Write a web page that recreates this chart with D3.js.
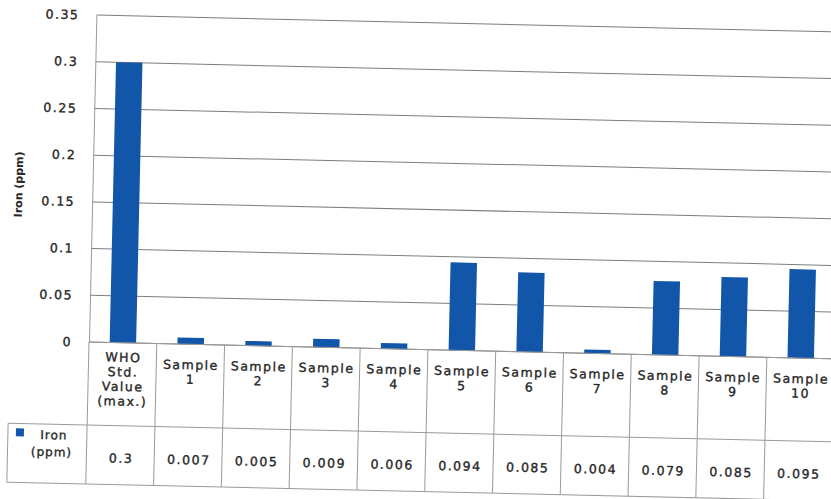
<!DOCTYPE html>
<html>
<head>
<meta charset="utf-8">
<script src="https://cdn.jsdelivr.net/npm/d3@7/dist/d3.min.js"></script>
<style>
  html, body { margin: 0; padding: 0; background: #fff; }
  svg { display: block; }
  text { font-family: "DejaVu Sans", Verdana, sans-serif; }
</style>
</head>
<body>
<script>
// Iron concentration per sample, with the WHO maximum as reference
const categories = ["WHO Std. Value (max.)", "Sample 1", "Sample 2", "Sample 3", "Sample 4",
  "Sample 5", "Sample 6", "Sample 7", "Sample 8", "Sample 9", "Sample 10"];
const categoryLines = [["WHO", "Std.", "Value", "(max.)"], ["Sample", "1"], ["Sample", "2"],
  ["Sample", "3"], ["Sample", "4"], ["Sample", "5"], ["Sample", "6"], ["Sample", "7"],
  ["Sample", "8"], ["Sample", "9"], ["Sample", "10"]];
const ironValues = [0.3, 0.007, 0.005, 0.009, 0.006, 0.094, 0.085, 0.004, 0.079, 0.085, 0.095];
const seriesName = ["Iron", "(ppm)"];
const yTicks = [0, 0.05, 0.1, 0.15, 0.2, 0.25, 0.3, 0.35];
const yTickLabels = ["0", "0.05", "0.1", "0.15", "0.2", "0.25", "0.3", "0.35"];
const yTitle = "Iron (ppm)";

const W = 831, H = 499;
const left = 89, zeroY = 342, topY = 15;
const step = 67.8;
const labelRowBottom = 425, tableBottom = 484, legendLeft = 10;
const barColor = "#1256a9";
const gridColor = "#7d7d7d";
const borderColor = "#9a9a9a";
const textColor = "#262626";
const textStroke = 0.35;

const svg = d3.select("body").append("svg").attr("width", W).attr("height", H);
svg.append("rect").attr("width", W).attr("height", H).attr("fill", "#fff");

// the printed page sits slightly tilted
const g = svg.append("g").attr("transform", `rotate(1.3, ${left}, ${zeroY})`);

const x = d3.scaleBand().domain(categories).range([left, left + step * categories.length]).padding(0);
const y = d3.scaleLinear().domain([0, 0.35]).range([zeroY, topY]);

// horizontal gridlines
g.append("g").selectAll("line").data(yTicks).join("line")
  .attr("x1", left).attr("x2", left + step * categories.length + 20)
  .attr("y1", d => y(d)).attr("y2", d => y(d))
  .attr("stroke", gridColor).attr("stroke-width", 1);

// y-axis with tick labels
const yAxis = d3.axisLeft(y).tickValues(yTicks).tickSize(0).tickPadding(17)
  .tickFormat((d, i) => yTickLabels[i]);
const ya = g.append("g").attr("transform", `translate(${left},0)`).call(yAxis);
ya.select(".domain").attr("stroke", borderColor);
ya.selectAll("text").attr("font-size", 12.5).attr("letter-spacing", 1.5)
  .attr("fill", textColor).attr("stroke", textColor).attr("stroke-width", textStroke)
  .attr("font-family", "DejaVu Sans, sans-serif");

// y title
g.append("text")
  .attr("transform", `translate(${19}, ${186}) rotate(-90)`)
  .attr("text-anchor", "middle")
  .attr("font-size", 11).attr("font-weight", "bold").attr("fill", textColor)
  .text(yTitle);

// bars
const barW = x.bandwidth() * 0.39;
g.append("g").selectAll("rect").data(ironValues).join("rect")
  .attr("x", (d, i) => x(categories[i]) + (x.bandwidth() - barW) / 2)
  .attr("width", barW)
  .attr("y", d => y(d))
  .attr("height", d => y(0) - y(d))
  .attr("fill", barColor);

// data table below the plot
const tbl = g.append("g").attr("stroke", borderColor).attr("stroke-width", 1).attr("fill", "none");
const right = left + step * categories.length;
tbl.append("line").attr("x1", left).attr("x2", right).attr("y1", zeroY).attr("y2", zeroY);
tbl.append("line").attr("x1", legendLeft).attr("x2", right).attr("y1", labelRowBottom).attr("y2", labelRowBottom);
tbl.append("line").attr("x1", legendLeft).attr("x2", right).attr("y1", tableBottom).attr("y2", tableBottom);
tbl.append("line").attr("x1", legendLeft).attr("x2", legendLeft).attr("y1", labelRowBottom).attr("y2", tableBottom);
tbl.selectAll("line.col").data(categories).join("line").attr("class", "col")
  .attr("x1", d => x(d)).attr("x2", d => x(d))
  .attr("y1", zeroY).attr("y2", tableBottom);

// category labels
const catG = g.append("g").selectAll("text").data(categories).join("text")
  .attr("text-anchor", "middle").attr("font-size", 12.5).attr("letter-spacing", 1.5)
  .attr("fill", textColor).attr("stroke", textColor).attr("stroke-width", textStroke);
catG.each(function (d, i) {
  const lines = categoryLines[i];
  const lh = 14.6;
  const firstY = lines.length > 2 ? 361 : 367;
  d3.select(this).selectAll("tspan").data(lines).join("tspan")
    .attr("x", x(d) + x.bandwidth() / 2 + 0.75)
    .attr("y", (t, k) => firstY + k * lh)
    .text(t => t);
});

// values row
g.append("g").selectAll("text").data(ironValues).join("text")
  .attr("x", (d, i) => x(categories[i]) + x.bandwidth() / 2 + 0.75)
  .attr("y", 462)
  .attr("text-anchor", "middle").attr("font-size", 12.5).attr("letter-spacing", 1.5)
  .attr("fill", textColor).attr("stroke", textColor).attr("stroke-width", textStroke)
  .text(d => String(d));

// legend key in the table
g.append("rect").attr("x", 18).attr("y", 430).attr("width", 8).attr("height", 8).attr("fill", barColor);
g.append("text").attr("text-anchor", "middle").attr("font-size", 12).attr("letter-spacing", 1)
  .attr("fill", textColor).attr("stroke", textColor).attr("stroke-width", textStroke)
  .selectAll("tspan").data(seriesName).join("tspan")
  .attr("x", (t, k) => k === 0 ? 56 : 54)
  .attr("y", (t, k) => 440 + k * 17)
  .text(t => t);
</script>
</body>
</html>
